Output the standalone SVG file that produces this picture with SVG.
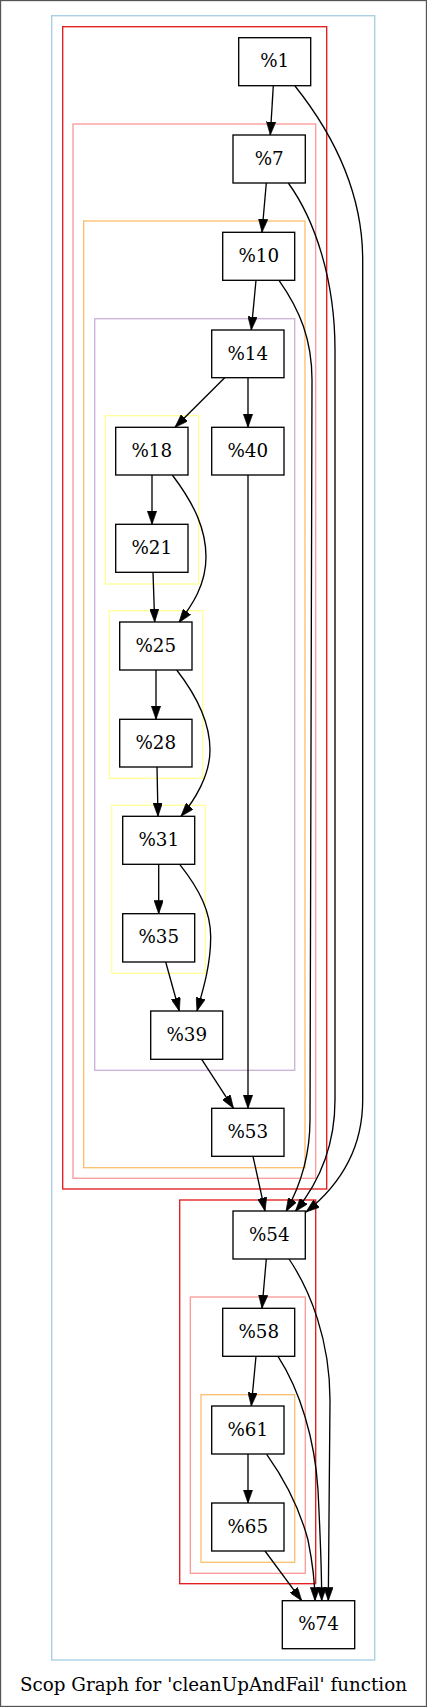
<svg xmlns="http://www.w3.org/2000/svg" width="427" height="1707" viewBox="0 0 427 1707">
<style>
.n rect{fill:#fff;stroke:#000;stroke-width:1.33}
.n text,.cap{font-family:"DejaVu Serif",serif;font-size:18.3px;fill:#000;text-anchor:middle}
.c{fill:none;stroke-width:1.33}
.e path{fill:none;stroke:#000;stroke-width:1.33;marker-end:url(#ah)}
</style>
<defs>
<marker id="ah" markerUnits="userSpaceOnUse" viewBox="0 0 10 7" markerWidth="13.3" markerHeight="9.3" refX="10" refY="3.5" orient="auto">
<path d="M0,0 L10,3.5 L0,7 z" fill="#000" stroke="#000" stroke-width="0.5"/>
</marker>
</defs>
<rect x="0" y="0" width="427" height="1707" fill="#fff"/>
<rect x="0.5" y="0.5" width="426" height="1706" fill="none" stroke="#555" stroke-width="1.33"/>
<g id="clusters">
<rect class="c" x="51.7" y="15.7" width="323" height="1644.3" stroke="#a6cee3"/>
<rect class="c" x="62.7" y="26.7" width="264" height="1162.3" stroke="#e31a1c"/>
<rect class="c" x="73" y="124" width="242.7" height="1054.3" stroke="#fb9a99"/>
<rect class="c" x="83.7" y="221" width="221.3" height="946.7" stroke="#fdbf6f"/>
<rect class="c" x="94.7" y="318.7" width="200" height="751.6" stroke="#cab2d6"/>
<rect class="c" x="105.3" y="415.7" width="93.4" height="168.3" stroke="#ffff99"/>
<rect class="c" x="109.3" y="610.7" width="93.4" height="167.6" stroke="#ffff99"/>
<rect class="c" x="111.7" y="805.3" width="93.6" height="168" stroke="#ffff99"/>
<rect class="c" x="179.7" y="1200" width="136" height="383.7" stroke="#e31a1c"/>
<rect class="c" x="190.3" y="1297" width="115" height="276.3" stroke="#fb9a99"/>
<rect class="c" x="201" y="1394.7" width="93.7" height="167.6" stroke="#fdbf6f"/>
</g>
<g id="edges" class="e">
<path d="M273.3,86 L270.3,135"/>
<path d="M295,86 C330,130 362.7,190 362.7,260 L362.7,1100 C362.7,1150 340,1185 306,1212"/>
<path d="M266.3,183 L262,232.3"/>
<path d="M288.3,183 C315,220 335,280 335,350 L335,1100 C335,1150 317,1185 295.3,1211.5"/>
<path d="M256,280.3 L251.3,330"/>
<path d="M279,280.3 C300,310 312,340 312,380 L310,1120 C310,1160 298,1190 286,1211.5"/>
<path d="M224.7,377.7 L175,427.3"/>
<path d="M248,377.7 L248,427.3"/>
<path d="M152,475 L152,524.3"/>
<path d="M172.3,475 C195,505 206,530 206,557 C206,585 192,605 179,622.5"/>
<path d="M153,572.3 L154.7,622"/>
<path d="M156,670 L156,719.3"/>
<path d="M176.7,670 C200,700 210,725 210,750 C210,775 195,800 181,816.3"/>
<path d="M157,767 L158,816.3"/>
<path d="M158.7,864.3 L158.7,913.7"/>
<path d="M179.7,864.3 C200,890 210.7,912 210.7,937 C210.7,965 203,990 197,1011"/>
<path d="M165.7,962 L179.3,1011"/>
<path d="M201.7,1059.3 L233.5,1108.3"/>
<path d="M248,475 L248,1108.3"/>
<path d="M253,1156.3 L265,1211"/>
<path d="M266.3,1259 L262,1308.3"/>
<path d="M289,1259 C310,1290 330,1340 330,1400 L328.3,1600.7"/>
<path d="M256,1356.3 L251.3,1406"/>
<path d="M278,1356.3 C300,1390 315,1440 318,1490 C320,1530 321.7,1570 321.7,1600.7"/>
<path d="M248,1454 L248,1503"/>
<path d="M266.7,1454.3 C285,1480 300,1510 308,1540 C313,1565 315,1585 315,1600.7"/>
<path d="M265,1551 L301.7,1600.7"/>
</g>
<g id="n1" class="n"><rect x="238.7" y="37.7" width="72" height="48"/><text x="274.7" y="67.3">%1</text></g>
<g id="n7" class="n"><rect x="233" y="135" width="72.3" height="48"/><text x="269.2" y="164.6">%7</text></g>
<g id="n10" class="n"><rect x="222.7" y="232.3" width="72" height="48"/><text x="258.7" y="261.9">%10</text></g>
<g id="n14" class="n"><rect x="211.7" y="330" width="72.3" height="47.7"/><text x="247.8" y="359.5">%14</text></g>
<g id="n18" class="n"><rect x="115.7" y="427.3" width="72.3" height="47.7"/><text x="151.8" y="456.8">%18</text></g>
<g id="n40" class="n"><rect x="211.7" y="427.3" width="72.3" height="47.7"/><text x="247.8" y="456.8">%40</text></g>
<g id="n21" class="n"><rect x="115.7" y="524.3" width="72.3" height="48"/><text x="151.8" y="553.9">%21</text></g>
<g id="n25" class="n"><rect x="119.7" y="622" width="72.3" height="48"/><text x="155.8" y="651.6">%25</text></g>
<g id="n28" class="n"><rect x="119.7" y="719.3" width="72.3" height="47.7"/><text x="155.8" y="748.8">%28</text></g>
<g id="n31" class="n"><rect x="122.7" y="816.3" width="72" height="48"/><text x="158.7" y="845.9">%31</text></g>
<g id="n35" class="n"><rect x="122.7" y="913.7" width="72" height="48.3"/><text x="158.7" y="943.4">%35</text></g>
<g id="n39" class="n"><rect x="150.7" y="1011" width="72" height="48.3"/><text x="186.7" y="1040.7">%39</text></g>
<g id="n53" class="n"><rect x="211.7" y="1108.3" width="72.3" height="48"/><text x="247.8" y="1137.9">%53</text></g>
<g id="n54" class="n"><rect x="233" y="1211" width="72.3" height="48"/><text x="269.2" y="1240.6">%54</text></g>
<g id="n58" class="n"><rect x="222.7" y="1308.3" width="72" height="48"/><text x="258.7" y="1337.9">%58</text></g>
<g id="n61" class="n"><rect x="211.7" y="1406" width="72.3" height="48"/><text x="247.8" y="1435.6">%61</text></g>
<g id="n65" class="n"><rect x="211.7" y="1503" width="72.3" height="48"/><text x="247.8" y="1532.6">%65</text></g>
<g id="n74" class="n"><rect x="282.3" y="1600.7" width="72.4" height="48"/><text x="318.5" y="1630.3">%74</text></g>
<text class="cap" x="213.5" y="1690.5">Scop Graph for 'cleanUpAndFail' function</text>
</svg>
